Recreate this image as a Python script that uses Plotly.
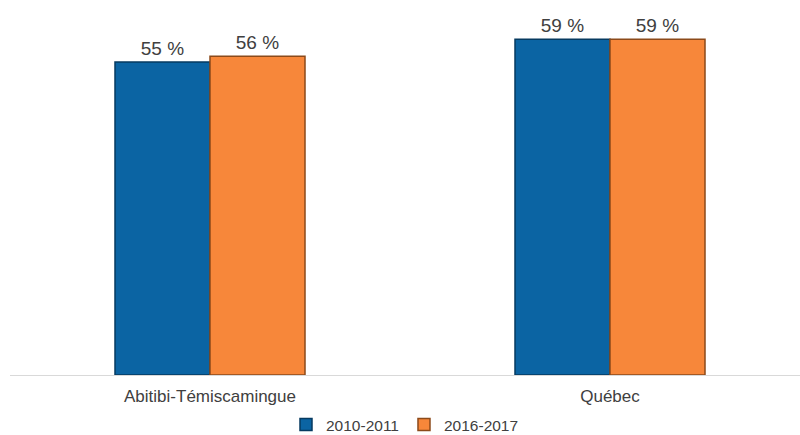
import plotly.graph_objects as go

categories = ["Abitibi-Témiscamingue", "Québec"]
series_names = ["2010-2011", "2016-2017"]
values_2010 = [55, 59]
values_2016 = [56, 59]
colors = ["#0b64a3", "#f7873a"]
edge_colors = ["#063a60", "#8c4a1a"]

fig = go.Figure()
for name, vals, col, edge in zip(series_names, [values_2010, values_2016], colors, edge_colors):
    fig.add_trace(go.Bar(
        x=[0, 1], y=vals, name=name,
        marker=dict(color=col, line=dict(color=edge, width=1.5)),
        text=[f"{v} %" for v in vals], textposition="outside",
        textfont=dict(size=19, color="#404040", family="Liberation Sans, Arial"),
        cliponaxis=False,
    ))

fig.update_layout(
    width=800, height=435,
    margin=dict(l=10, r=0, t=5, b=60, autoexpand=False),
    barmode="group", bargap=0.525, bargroupgap=0,
    plot_bgcolor="white", paper_bgcolor="white",
    font=dict(family="Liberation Sans, Arial", color="#404040", size=16),
    xaxis=dict(tickmode="array", tickvals=[0, 1], ticktext=categories,
               range=[-0.5, 1.475], showline=True, linecolor="#d9d9d9", linewidth=1,
               showgrid=False, zeroline=False, ticks="", ticklabelstandoff=6,
               tickfont=dict(size=17, color="#404040")),
    yaxis=dict(range=[0, 65], visible=False, showgrid=False, zeroline=False),
    legend=dict(orientation="h", x=0.5, xanchor="center", y=-0.135, yanchor="middle",
                font=dict(size=15.5, color="#404040"), itemwidth=30, traceorder="normal",
                bgcolor="rgba(0,0,0,0)"),
)

fig.write_html("out.html")
